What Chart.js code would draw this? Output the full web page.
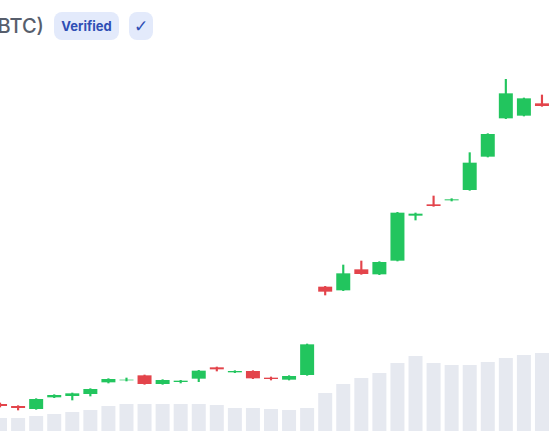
<!DOCTYPE html>
<html lang="en">
<head>
    <meta charset="UTF-8">
    <title>BTC</title>
    <style>
        body {
            margin: 0;
            width: 551px;
            height: 431px;
            overflow: hidden;
            background: #ffffff;
            font-family: Inter, "Noto Sans", Arial, sans-serif;
            position: relative;
        }
        #chart {
            position: absolute;
            left: -9px;
            top: 0;
        }
        .title {
            position: absolute;
            right: 507px;
            top: 12px;
            height: 28px;
            line-height: 28px;
            font-size: 20px;
            font-weight: 500;
            color: #575e6c;
            white-space: nowrap;
        }
        .badge {
            position: absolute;
            top: 12px;
            height: 28px;
            line-height: 28px;
            border-radius: 8px;
            background: #e3eafb;
            color: #2f4fb5;
            font-weight: 700;
            font-size: 13px;
            text-align: center;
        }
        #verified { left: 54px; width: 65px; }
        #check { left: 129px; width: 24px; font-size: 17px; font-weight: 400; font-family: "DejaVu Sans", sans-serif; }
    </style>
</head>
<body>

<div class="title">Bitcoin (BTC)</div>
<div class="badge" id="verified">Verified</div>
<div class="badge" id="check">✓</div>

<canvas id="chart" width="560" height="431"></canvas>

<script src="https://cdn.jsdelivr.net/npm/chart.js"></script>
<script>
    // weekly candles
    const labels = ['2023-08-14','2023-08-21','2023-08-28','2023-09-04','2023-09-11','2023-09-18','2023-09-25','2023-10-02',
        '2023-10-09','2023-10-16','2023-10-23','2023-10-30','2023-11-06','2023-11-13','2023-11-20','2023-11-27',
        '2023-12-04','2023-12-11','2023-12-18','2023-12-25','2024-01-01','2024-01-08','2024-01-15','2024-01-22',
        '2024-01-29','2024-02-05','2024-02-12','2024-02-19','2024-02-26','2024-03-04','2024-03-11'];
    const opens  = [20050, 19750, 19300, 21050, 21250, 21550, 23300, 23600, 24350, 23050, 23350, 23850, 25550, 24800, 25000, 24000,
        23700, 24400, 37650, 37100, 40250, 39500, 41550, 48300, 50000, 50600, 52150, 57150, 62900, 63300, 65150];
    const highs  = [20200, 19800, 20850, 21450, 21700, 22350, 23850, 23950, 24400, 23700, 23600, 25100, 25600, 25050, 25050, 24100,
        24300, 29050, 37700, 40900, 41500, 41400, 48800, 48700, 51250, 50850, 57750, 60600, 68750, 65950, 66400];
    const lows   = [19600, 19150, 19250, 21000, 20650, 21250, 23200, 23500, 23000, 23000, 23200, 23400, 25000, 24750, 23850, 23650,
        23650, 24350, 36400, 37050, 39500, 39450, 41500, 47650, 49700, 50500, 52100, 57100, 62850, 63250, 64700];
    const closes = [19750, 19450, 20800, 21400, 21650, 22300, 23800, 23700, 23050, 23650, 23550, 25050, 25250, 25000, 23900, 23800,
        24250, 29000, 36900, 39650, 39550, 41350, 48750, 48600, 49750, 50750, 56250, 60550, 66650, 65900, 64750];
    // volume, billions
    const volumes = [6.5, 6.5, 7.5, 8.5, 9.5, 10.5, 12.5, 13.5, 13.5, 13.5, 13.5, 13.5, 13, 11.5, 11.5, 11,
        10.5, 11.5, 19, 23.5, 26.5, 29, 34, 37.5, 34, 33, 33, 34.5, 36.5, 38, 39];

    const up = '#22c55e';
    const down = '#e3444b';
    const colors = opens.map((o, i) => closes[i] >= o ? up : down);

    new Chart(document.getElementById('chart'), {
        type: 'bar',
        data: {
            labels: labels,
            datasets: [
                {
                    // bodies
                    data: opens.map((o, i) => [o, closes[i]]),
                    backgroundColor: colors,
                    yAxisID: 'y',
                    grouped: false,
                    barPercentage: 0.775,
                    categoryPercentage: 1,
                    order: 1
                },
                {
                    // wicks
                    data: lows.map((l, i) => [l, highs[i]]),
                    backgroundColor: colors,
                    yAxisID: 'y',
                    grouped: false,
                    barThickness: 1.5,
                    order: 2
                },
                {
                    data: volumes,
                    backgroundColor: '#e6e9f0',
                    yAxisID: 'yv',
                    grouped: false,
                    barPercentage: 0.775,
                    categoryPercentage: 1,
                    order: 3
                }
            ]
        },
        options: {
            responsive: false,
            animation: false,
            layout: { padding: 0 },
            plugins: {
                legend: { display: false },
                tooltip: { enabled: false }
            },
            scales: {
                x: { display: false },
                y: { display: false, min: 16000, max: 80650 },
                yv: { display: false, min: 0, max: 215.5 }
            }
        }
    });
</script>

</body>
</html>
